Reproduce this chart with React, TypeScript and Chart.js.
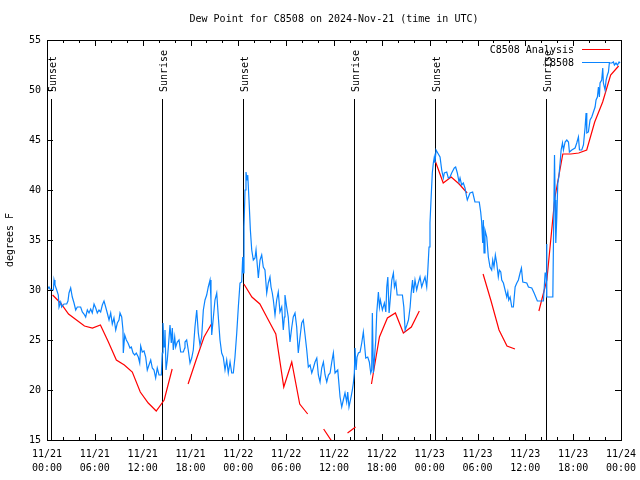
import { useEffect, useRef } from "react";
import { Chart, registerables } from "chart.js";

Chart.register(...registerables);

const FONT = '"DejaVu Sans Mono", monospace';
const RED = "#ff0000";
const BLUE = "#0a84ff";

const TITLE = "Dew Point for C8508 on 2024-Nov-21 (time in UTC)";
const Y_TITLE = "degrees F";
const DATES = ["11/21", "11/22", "11/23", "11/24"];
const SERIES_NAMES = ["C8508 Analysis", "C8508"];

// hours since 2024-11-21 00:00 UTC
const sunsetHours = [0.55, 24.62, 48.7];
const sunriseHours = [14.47, 38.55, 62.63];

// hourly analysis (at hh:42)
const analysisHours = [
  0.7, 1.7, 2.7, 3.7, 4.7, 5.7, 6.7, 7.7, 8.7, 9.7, 10.7, 11.7, 12.7, 13.7, 14.7, 15.7,
  16.7, 17.7, 18.7, 19.7, 20.7, 21.7, 22.7, 23.7, 24.7, 25.7, 26.7, 27.7, 28.7, 29.7, 30.7, 31.7,
  32.7, 33.7, 34.7, 35.7, 36.7, 37.7, 38.7, 39.7, 40.7, 41.7, 42.7, 43.7, 44.7, 45.7, 46.7, 47.7,
  48.7, 49.7, 50.7, 51.7, 52.7, 53.7, 54.7, 55.7, 56.7, 57.7, 58.7, 59.7, 60.7, 61.7, 62.7, 63.7,
  64.7, 65.7, 66.7, 67.7, 68.7, 69.7, 70.7, 71.7,
];
const analysisDew = [
  29.5, 28.7, 27.6, 27.0, 26.4, 26.2, 26.5, 24.8, 23.0, 22.5, 21.8, 19.8, 18.7, 17.9, 19.0, 22.1,
  null, 20.6, 23.0, 25.3, 26.7, null, null, null, 30.6, 29.3, 28.6, 27.1, 25.6, 20.3, 22.8, 18.6,
  17.6, null, 16.1, 14.9, null, 15.7, 16.3, null, 20.6, 25.3, 27.2, 27.7, 25.7, 26.3, 27.9, null,
  42.9, 40.7, 41.3, 40.6, 39.7, null, 31.6, 28.9, 26.0, 24.4, 24.1, null, null, 27.9, 31.0, 39.2,
  43.6, 43.6, 43.7, 44.0, 46.8, 48.8, 51.5, 52.4,
];

// station observations
const obsHours = [
  0.0, 0.25, 0.45, 0.8, 0.88, 1.0, 1.22, 1.42, 1.51, 1.72, 1.84, 2.13, 2.47, 2.63, 2.76, 2.97,
  3.17, 3.39, 3.6, 3.8, 4.22, 4.43, 4.64, 4.85, 5.06, 5.27, 5.48, 5.68, 5.9, 6.11, 6.31, 6.52,
  6.73, 6.94, 7.15, 7.36, 7.56, 7.78, 7.99, 8.19, 8.4, 8.62, 8.82, 9.03, 9.16, 9.37, 9.53, 9.57,
  9.75, 9.95, 10.16, 10.41, 10.58, 10.79, 11.0, 11.2, 11.45, 11.63, 11.75, 11.95, 12.17, 12.38, 12.58, 12.79,
  13.01, 13.21, 13.42, 13.63, 13.83, 14.05, 14.34, 14.46, 14.55, 14.68, 14.8, 14.93, 15.09, 15.22, 15.43, 15.59,
  15.72, 15.84, 16.02, 16.14, 16.34, 16.56, 16.77, 17.1, 17.27, 17.31, 17.52, 17.72, 17.94, 18.15, 18.35, 18.56,
  18.78, 18.98, 19.19, 19.4, 19.61, 19.82, 20.03, 20.23, 20.45, 20.57, 20.66, 20.86, 21.07, 21.29, 21.49, 21.7,
  21.91, 22.11, 22.33, 22.54, 22.74, 22.96, 23.17, 23.37, 23.58, 23.8, 24.0, 24.21, 24.42, 24.55, 24.63, 24.71,
  24.84, 24.96, 25.09, 25.18, 25.34, 25.51, 25.68, 25.88, 26.09, 26.22, 26.43, 26.51, 26.72, 26.93, 27.13, 27.34,
  27.56, 27.76, 27.97, 28.1, 28.26, 28.39, 28.6, 28.81, 29.01, 29.22, 29.44, 29.64, 29.77, 29.85, 30.06, 30.26,
  30.48, 30.69, 30.89, 31.11, 31.32, 31.52, 31.74, 31.95, 32.15, 32.37, 32.58, 32.78, 33.0, 33.21, 33.41, 33.62,
  33.84, 34.04, 34.25, 34.46, 34.67, 34.88, 35.09, 35.3, 35.51, 35.72, 35.92, 36.13, 36.47, 36.76, 36.97, 37.17,
  37.38, 37.59, 37.72, 37.88, 38.14, 38.3, 38.43, 38.55, 38.64, 38.77, 38.89, 39.06, 39.27, 39.48, 39.68, 39.81,
  39.98, 40.23, 40.43, 40.61, 40.73, 40.81, 40.94, 41.06, 41.24, 41.36, 41.57, 41.7, 41.82, 42.07, 42.32, 42.5,
  42.62, 42.75, 42.91, 43.08, 43.25, 43.45, 43.58, 43.76, 43.92, 44.58, 44.76, 44.92, 45.14, 45.34, 45.55, 45.68,
  45.85, 45.97, 46.16, 46.37, 46.57, 46.79, 47.0, 47.2, 47.42, 47.63, 47.75, 47.92, 48.04, 48.17, 48.33, 48.46,
  48.58, 48.67, 48.8, 49.01, 49.3, 49.51, 49.72, 49.84, 50.14, 50.34, 50.55, 50.76, 51.09, 51.26, 51.47, 51.68,
  51.81, 52.01, 52.22, 52.43, 52.64, 52.72, 53.06, 53.39, 53.68, 54.22, 54.4, 54.52, 54.65, 54.73, 54.82, 54.94,
  55.16, 55.36, 55.57, 55.78, 55.91, 56.07, 56.24, 56.41, 56.61, 56.74, 56.92, 57.04, 57.25, 57.46, 57.67, 57.8,
  57.92, 58.09, 58.3, 58.5, 58.72, 58.93, 59.13, 59.34, 59.51, 59.68, 60.18, 60.39, 60.81, 61.1, 61.51, 62.27,
  62.48, 62.6, 62.68, 62.7, 63.45, 63.53, 63.66, 63.74, 63.82, 63.95, 64.07, 64.2, 64.36, 64.49, 64.66, 64.78,
  64.99, 65.2, 65.41, 65.53, 65.83, 66.24, 66.45, 66.66, 66.79, 67.08, 67.29, 67.5, 67.62, 67.71, 67.91, 68.12,
  68.33, 68.54, 68.75, 68.87, 69.04, 69.17, 69.29, 69.37, 69.58, 69.71, 69.79, 70.0, 70.13, 70.29, 70.42, 70.54,
  70.84, 71.05, 71.17, 71.38, 71.55, 71.76, 71.88,
];
const obsDew = [
  30.0, 30.3, 30.0, 30.0, 31.0, 30.5, 30.0, 29.5, 28.3, 28.8, 28.3, 28.6, 28.6, 28.9, 29.7, 30.2,
  29.3, 28.7, 28.0, 28.3, 28.3, 27.8, 27.6, 27.3, 28.0, 27.7, 28.1, 27.7, 28.6, 28.2, 27.7, 28.0,
  27.8, 28.5, 28.9, 28.3, 27.7, 27.0, 27.7, 26.6, 27.2, 26.0, 26.7, 27.0, 27.7, 27.3, 26.0, 23.7,
  25.5, 25.0, 24.7, 24.2, 24.3, 23.7, 23.5, 23.7, 23.3, 22.7, 24.4, 23.8, 23.9, 23.3, 22.0, 22.5,
  23.0, 22.2, 22.0, 21.2, 22.2, 21.5, 21.5, 23.7, 26.7, 24.3, 26.0, 22.0, 23.0, 24.3, 26.5, 24.7,
  26.2, 24.0, 25.3, 24.3, 24.8, 25.0, 23.8, 23.8, 24.2, 24.8, 25.0, 24.0, 22.7, 23.2, 24.0, 26.3,
  28.0, 25.7, 24.5, 25.3, 28.0, 29.0, 29.5, 30.3, 31.0, 29.0, 25.5, 27.2, 29.0, 29.7, 27.3, 25.0,
  23.7, 23.3, 22.0, 23.0, 21.7, 22.8, 21.7, 21.7, 23.3, 25.7, 28.3, 30.7, 30.8, 33.3, 31.7, 36.3,
  40.0, 41.8, 41.0, 41.5, 39.0, 36.0, 34.0, 33.0, 33.2, 34.0, 32.0, 31.2, 33.0, 33.5, 32.3, 32.0,
  29.7, 30.7, 31.3, 30.3, 29.7, 29.0, 27.5, 29.0, 29.8, 27.8, 28.3, 26.0, 27.3, 29.5, 28.3, 27.3,
  24.8, 26.2, 27.3, 27.7, 26.3, 23.7, 25.3, 26.7, 27.0, 25.5, 24.0, 22.3, 22.5, 21.7, 22.2, 22.8,
  23.2, 21.5, 20.8, 22.2, 22.8, 21.5, 20.8, 21.5, 21.7, 22.8, 23.7, 21.7, 22.0, 19.3, 18.3, 19.0,
  19.7, 18.8, 19.8, 18.3, 19.3, 20.0, 20.7, 21.7, 24.2, 22.0, 23.3, 23.7, 23.8, 24.7, 25.8, 24.7,
  23.2, 23.3, 22.8, 21.7, 22.0, 27.7, 21.7, 23.0, 25.0, 27.7, 29.8, 28.3, 29.0, 28.0, 28.7, 27.8,
  30.3, 31.3, 27.7, 29.3, 31.0, 31.7, 30.3, 30.8, 29.5, 29.5, 28.3, 26.0, 26.5, 27.0, 28.3, 29.7,
  31.0, 29.7, 31.0, 30.0, 30.7, 31.3, 30.3, 30.8, 31.3, 30.3, 31.7, 34.3, 36.7, 39.0, 41.7, 42.7,
  43.3, 42.7, 44.0, 43.7, 43.3, 42.0, 41.2, 41.7, 41.8, 41.2, 41.3, 41.7, 42.2, 42.3, 41.7, 40.8,
  41.2, 40.5, 40.7, 40.2, 39.3, 39.0, 39.7, 39.8, 38.8, 38.8, 37.8, 36.8, 34.7, 37.0, 33.7, 36.0,
  35.3, 33.3, 32.3, 32.0, 33.0, 32.3, 33.5, 32.7, 31.3, 32.0, 31.8, 31.0, 30.7, 30.0, 29.3, 29.8,
  29.0, 29.3, 28.3, 28.3, 30.3, 30.7, 31.0, 31.7, 32.2, 30.8, 30.7, 30.3, 30.2, 29.7, 28.9, 28.9,
  31.7, 31.7, 34.6, 29.3, 29.3, 35.0, 43.5, 39.0, 34.7, 37.3, 40.7, 41.3, 42.7, 44.0, 44.7, 44.0,
  44.8, 45.0, 44.8, 43.8, 44.0, 44.2, 44.7, 45.3, 44.0, 44.0, 44.5, 46.3, 47.7, 45.7, 45.8, 47.0,
  47.3, 47.8, 48.3, 49.0, 49.3, 50.3, 49.3, 50.7, 51.0, 52.2, 50.7, 50.0, 51.0, 51.5, 51.8, 52.7,
  52.7, 52.8, 52.5, 52.7, 52.5, 52.8, 52.7,
];

function tickLabel(v: number): string[] {
  const day = Math.floor(v / 24);
  const hh = String(v % 24).padStart(2, "0");
  return [DATES[day], hh + ":00"];
}

const overlay = {
  id: "overlay",
  beforeDatasetsDraw(chart: any) {
    const { ctx, chartArea: a, scales } = chart;
    const x = scales.x;
    ctx.save();
    ctx.strokeStyle = "#000";
    ctx.lineWidth = 1;
    const lineTop = a.top + 59;
    for (const h of [...sunsetHours, ...sunriseHours]) {
      const px = Math.round(x.getPixelForValue(h)) + 0.5;
      ctx.beginPath();
      ctx.moveTo(px, lineTop);
      ctx.lineTo(px, a.bottom);
      ctx.stroke();
    }
    ctx.restore();
  },
  afterDraw(chart: any) {
    const { ctx, chartArea: a, scales } = chart;
    const x = scales.x;
    const y = scales.y;
    ctx.save();
    ctx.strokeStyle = "#000";
    ctx.fillStyle = "#000";
    ctx.lineWidth = 1;
    // frame
    ctx.strokeRect(a.left + 0.5, a.top + 0.5, a.right - a.left, a.bottom - a.top);
    // x ticks (major every 6h, minor every 2h), mirrored on top
    ctx.beginPath();
    for (let h = 2; h < 72; h += 2) {
      const px = Math.round(x.getPixelForValue(h)) + 0.5;
      const len = h % 6 === 0 ? 6 : 3;
      ctx.moveTo(px, a.bottom);
      ctx.lineTo(px, a.bottom - len);
      ctx.moveTo(px, a.top);
      ctx.lineTo(px, a.top + len);
    }
    for (let v = 20; v < 55; v += 5) {
      const py = Math.round(y.getPixelForValue(v)) + 0.5;
      ctx.moveTo(a.left, py);
      ctx.lineTo(a.left + 6, py);
      ctx.moveTo(a.right, py);
      ctx.lineTo(a.right - 6, py);
    }
    ctx.stroke();

    ctx.font = "10px " + FONT;
    // title
    ctx.textAlign = "center";
    ctx.textBaseline = "middle";
    ctx.fillText(TITLE, (a.left + a.right) / 2, 19);
    // y title
    ctx.save();
    ctx.translate(10, (a.top + a.bottom) / 2);
    ctx.rotate(-Math.PI / 2);
    ctx.fillText(Y_TITLE, 0, 0);
    ctx.restore();
    // sunrise / sunset labels
    const drawSun = (h: number, label: string) => {
      const px = Math.round(x.getPixelForValue(h)) + 2;
      ctx.save();
      ctx.translate(px, a.top + 52);
      ctx.rotate(-Math.PI / 2);
      ctx.textAlign = "left";
      ctx.textBaseline = "middle";
      ctx.fillText(label, 0, 0);
      ctx.restore();
    };
    sunsetHours.forEach((h) => drawSun(h, "Sunset"));
    sunriseHours.forEach((h) => drawSun(h, "Sunrise"));
    // legend
    const colors = [RED, BLUE];
    SERIES_NAMES.forEach((name, i) => {
      const ly = a.top + 9.5 + i * 13;
      ctx.fillStyle = "#000";
      ctx.textAlign = "right";
      ctx.textBaseline = "middle";
      ctx.fillText(name, a.right - 47, ly + 0.5);
      ctx.strokeStyle = colors[i];
      ctx.beginPath();
      ctx.moveTo(a.right - 39, ly);
      ctx.lineTo(a.right - 11, ly);
      ctx.stroke();
    });
    ctx.restore();
  },
};

export default function App() {
  const ref = useRef<HTMLCanvasElement | null>(null);
  useEffect(() => {
    const canvas = ref.current;
    if (!canvas) return;
    const chart = new Chart(canvas, {
      type: "line",
      data: {
        datasets: [
          {
            label: SERIES_NAMES[0],
            data: analysisHours.map((h, i) => ({ x: h, y: analysisDew[i] })) as any,
            borderColor: RED,
            borderWidth: 1.2,
            pointRadius: 0,
            spanGaps: false,
            tension: 0,
            order: 1,
          },
          {
            label: SERIES_NAMES[1],
            data: obsHours.map((h, i) => ({ x: h, y: obsDew[i] })) as any,
            borderColor: BLUE,
            borderWidth: 1.2,
            pointRadius: 0,
            tension: 0,
            order: 0,
          },
        ],
      },
      options: {
        animation: false,
        responsive: false,
        events: [],
        layout: { padding: { top: 40, right: 19, left: 0, bottom: 0 } },
        plugins: {
          legend: { display: false },
          tooltip: { enabled: false },
          title: { display: false },
        },
        scales: {
          x: {
            type: "linear",
            min: 0,
            max: 72,
            afterFit: (s: any) => {
              s.height = 40;
              s.paddingLeft = 0;
              s.paddingRight = 0;
            },
            grid: { display: false, drawTicks: false },
            border: { display: false },
            ticks: {
              stepSize: 6,
              autoSkip: false,
              maxRotation: 0,
              padding: 7,
              color: "#000",
              font: { family: FONT, size: 10, lineHeight: 1.4 },
              callback: (v: any) => tickLabel(Number(v)),
            },
          },
          y: {
            min: 15,
            max: 55,
            afterFit: (s: any) => {
              s.width = 47;
              s.paddingTop = 0;
              s.paddingBottom = 0;
            },
            grid: { display: false, drawTicks: false },
            border: { display: false },
            ticks: {
              stepSize: 5,
              padding: 6,
              color: "#000",
              font: { family: FONT, size: 10 },
            },
          },
        },
      },
      plugins: [overlay],
    });
    return () => chart.destroy();
  }, []);
  return (
    <div style={{ position: "absolute", left: 0, top: 0, width: 640, height: 480, background: "#fff" }}>
      <canvas ref={ref} width={640} height={480} style={{ display: "block" }} />
    </div>
  );
}
